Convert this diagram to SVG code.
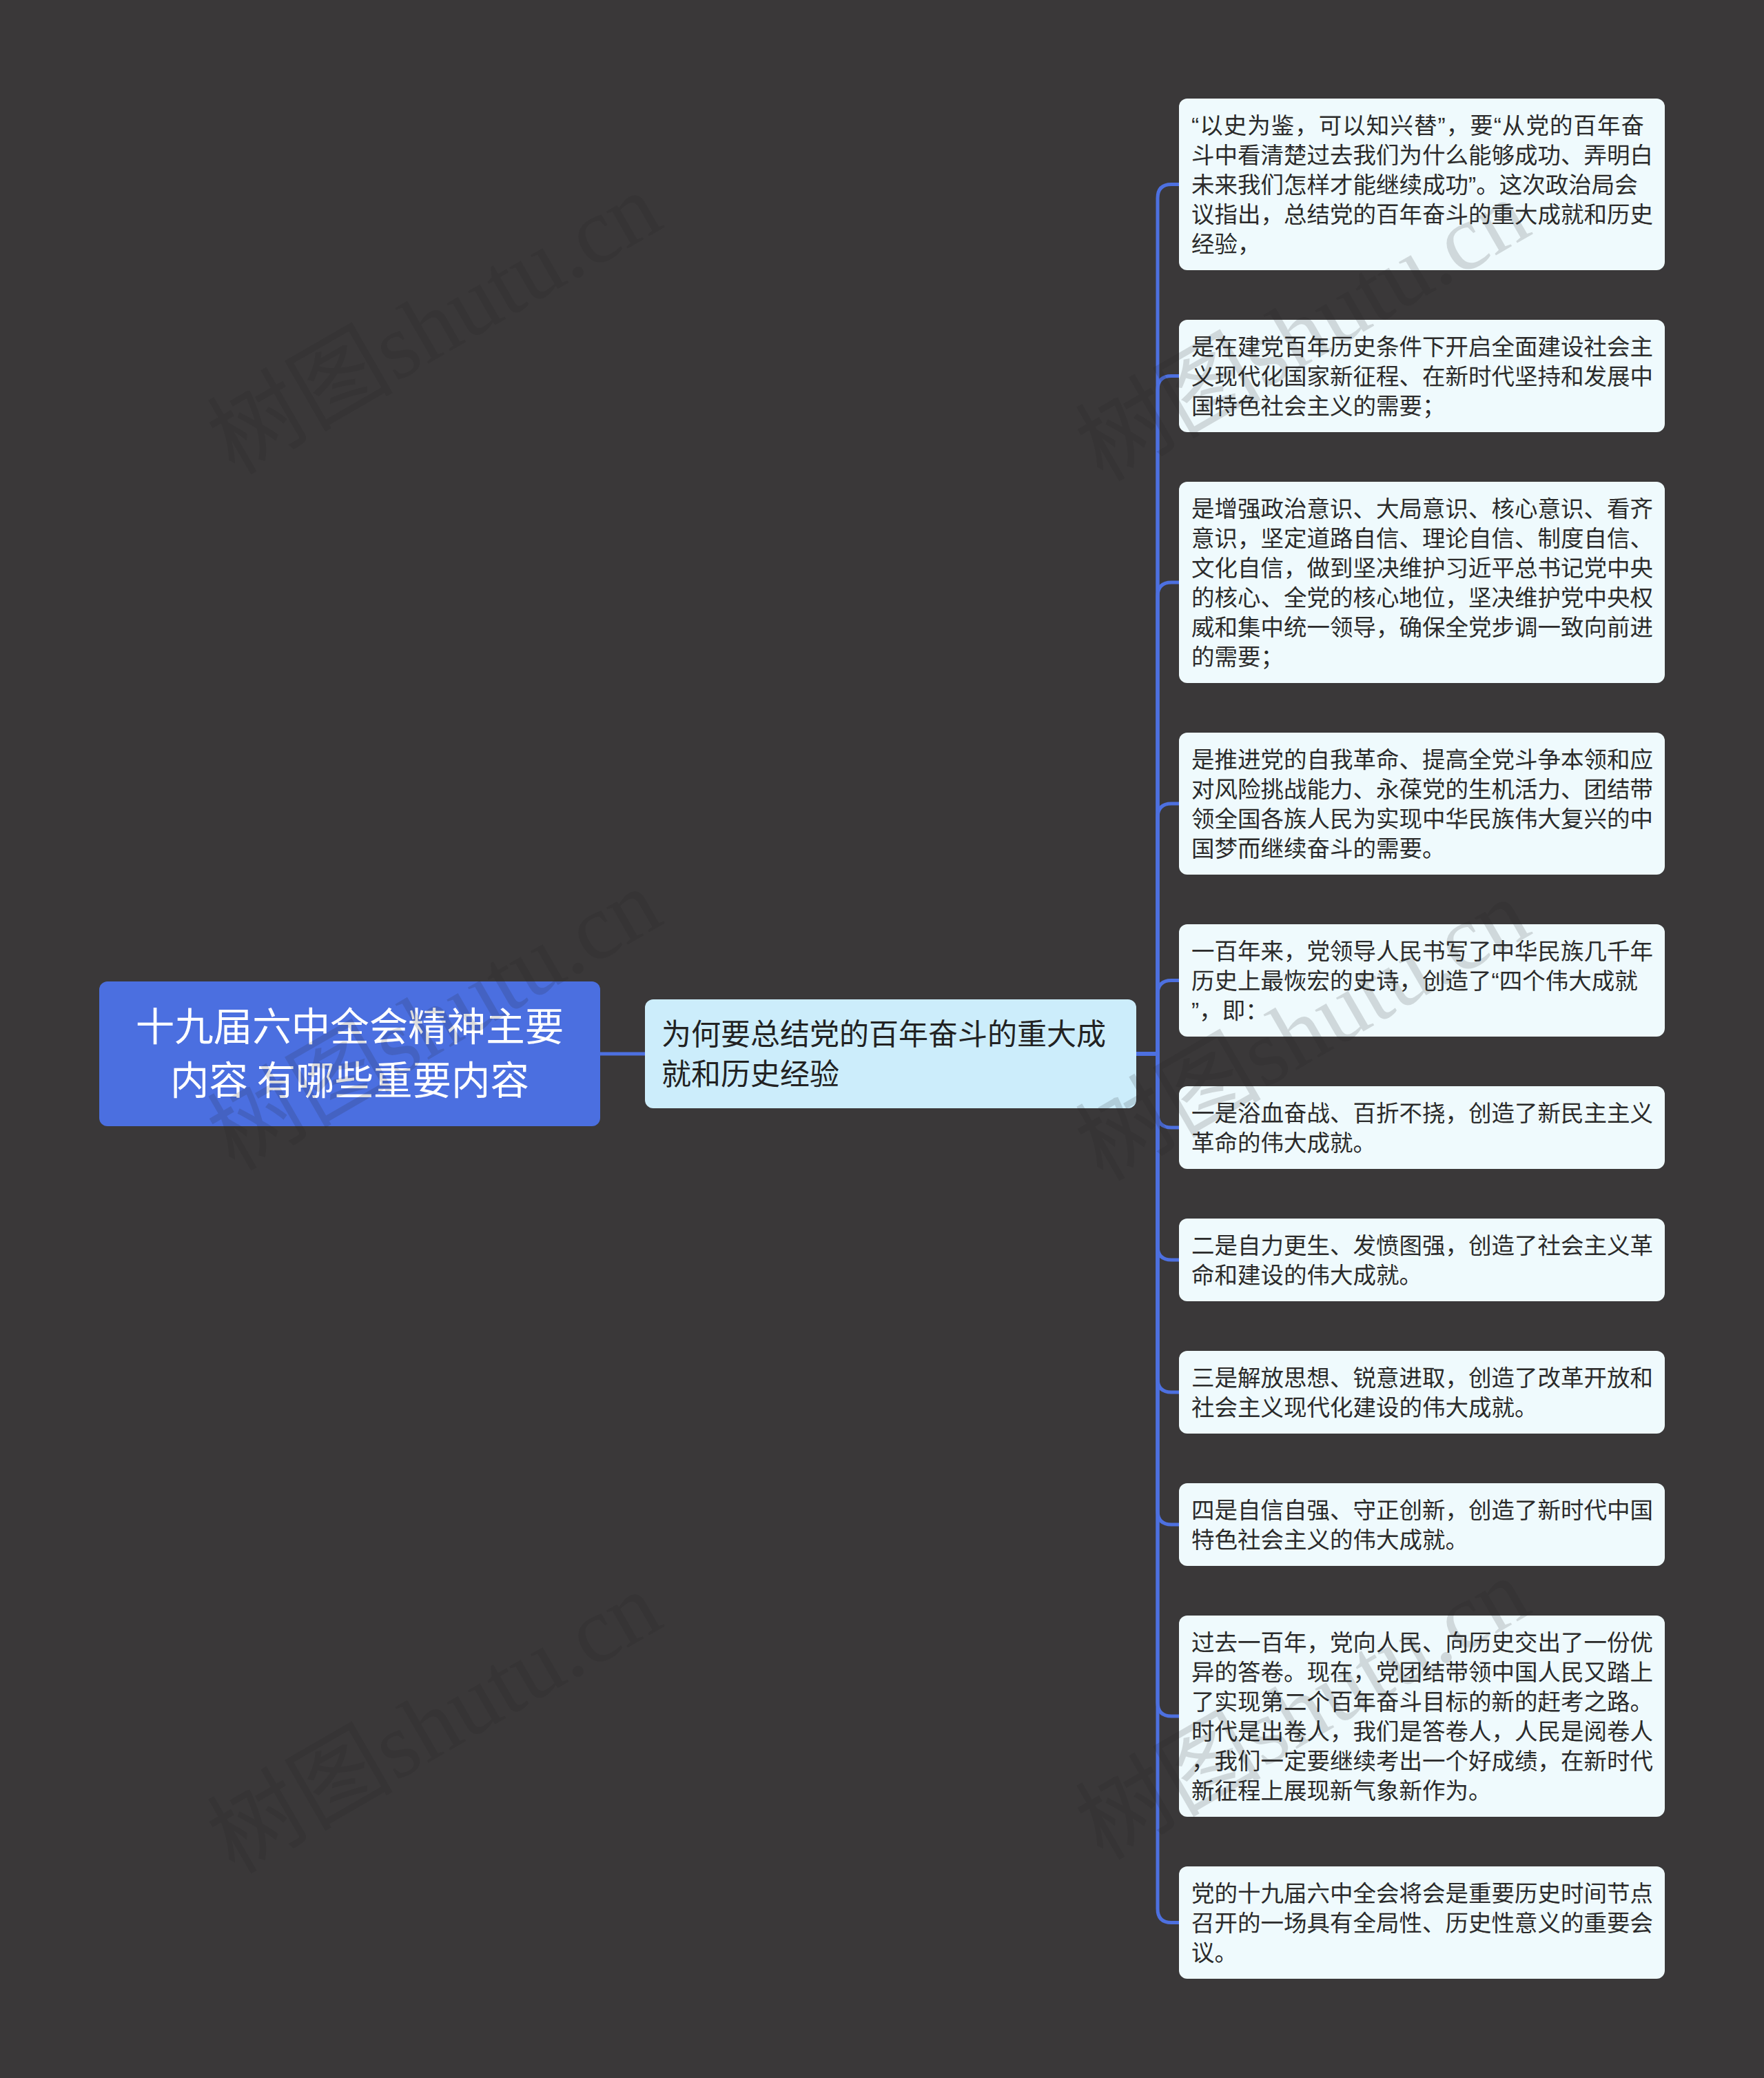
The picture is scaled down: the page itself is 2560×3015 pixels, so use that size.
<svg xmlns="http://www.w3.org/2000/svg" width="2560" height="3015" viewBox="0 0 2560 3015">
<style>
.bg{fill:#3a3839}
.conn{fill:none;stroke:#4d70e0;stroke-width:5}
.root-box{fill:#4b6fe0}
.child-box{fill:#ccedfb}
.leaf-box{fill:#effafd}
.root-t{font-family:"Noto Sans CJK SC","Noto Sans",sans-serif;font-size:56.5px;fill:#ffffff;text-anchor:middle}
.child-t{font-family:"Noto Sans CJK SC","Noto Sans",sans-serif;font-size:43px;fill:#222222}
.leaf-t{font-family:"Noto Sans CJK SC","Noto Sans",sans-serif;font-size:33.5px;fill:#2b2b2b}
.q{font-family:"Liberation Sans","Noto Sans CJK SC",sans-serif}
.wm{font-family:"Liberation Serif","Noto Sans CJK SC",serif;font-size:135px;fill:#202020;opacity:0.15}
</style>
<rect class="bg" x="0" y="0" width="2560" height="3015"/>
<g id="connectors">
<path class="conn" d="M871 1529 H936"/>
<path class="conn" d="M1649 1529 H1680 V287.5 Q1680 267.5 1700 267.5 H1711"/>
<path class="conn" d="M1649 1529 H1680 V565.5 Q1680 545.5 1700 545.5 H1711"/>
<path class="conn" d="M1649 1529 H1680 V865 Q1680 845 1700 845 H1711"/>
<path class="conn" d="M1649 1529 H1680 V1186 Q1680 1166 1700 1166 H1711"/>
<path class="conn" d="M1649 1529 H1680 V1442.5 Q1680 1422.5 1700 1422.5 H1711"/>
<path class="conn" d="M1649 1529 H1680 V1616 Q1680 1636 1700 1636 H1711"/>
<path class="conn" d="M1649 1529 H1680 V1808 Q1680 1828 1700 1828 H1711"/>
<path class="conn" d="M1649 1529 H1680 V2000 Q1680 2020 1700 2020 H1711"/>
<path class="conn" d="M1649 1529 H1680 V2192 Q1680 2212 1700 2212 H1711"/>
<path class="conn" d="M1649 1529 H1680 V2470 Q1680 2490 1700 2490 H1711"/>
<path class="conn" d="M1649 1529 H1680 V2769.5 Q1680 2789.5 1700 2789.5 H1711"/>
</g>
<g id="root">
<rect class="root-box" x="144" y="1424" width="727" height="210" rx="12"/>
<text class="root-t" x="507.5" y="1510">十九届六中全会精神主要</text>
<text class="root-t" x="507.5" y="1588">内容 有哪些重要内容</text>
</g>
<g id="child">
<rect class="child-box" x="936" y="1450" width="713" height="158" rx="12"/>
<text class="child-t" x="960" y="1516">为何要总结党的百年奋斗的重大成</text>
<text class="child-t" x="960" y="1574">就和历史经验</text>
</g>
<g id="leaf1">
<rect class="leaf-box" x="1711" y="143" width="705" height="249" rx="12"/>
<text class="leaf-t" x="1729" y="194" textLength="657" lengthAdjust="spacing"><tspan class="q">“</tspan>以史为鉴，可以知兴替<tspan class="q">”</tspan>，要<tspan class="q">“</tspan>从党的百年奋</text>
<text class="leaf-t" x="1729" y="237">斗中看清楚过去我们为什么能够成功、弄明白</text>
<text class="leaf-t" x="1729" y="280">未来我们怎样才能继续成功<tspan class="q">”</tspan>。这次政治局会</text>
<text class="leaf-t" x="1729" y="323">议指出，总结党的百年奋斗的重大成就和历史</text>
<text class="leaf-t" x="1729" y="366">经验，</text>
</g>
<g id="leaf2">
<rect class="leaf-box" x="1711" y="464" width="705" height="163" rx="12"/>
<text class="leaf-t" x="1729" y="515">是在建党百年历史条件下开启全面建设社会主</text>
<text class="leaf-t" x="1729" y="558">义现代化国家新征程、在新时代坚持和发展中</text>
<text class="leaf-t" x="1729" y="601">国特色社会主义的需要；</text>
</g>
<g id="leaf3">
<rect class="leaf-box" x="1711" y="699" width="705" height="292" rx="12"/>
<text class="leaf-t" x="1729" y="750">是增强政治意识、大局意识、核心意识、看齐</text>
<text class="leaf-t" x="1729" y="793">意识，坚定道路自信、理论自信、制度自信、</text>
<text class="leaf-t" x="1729" y="836">文化自信，做到坚决维护习近平总书记党中央</text>
<text class="leaf-t" x="1729" y="879">的核心、全党的核心地位，坚决维护党中央权</text>
<text class="leaf-t" x="1729" y="922">威和集中统一领导，确保全党步调一致向前进</text>
<text class="leaf-t" x="1729" y="965">的需要；</text>
</g>
<g id="leaf4">
<rect class="leaf-box" x="1711" y="1063" width="705" height="206" rx="12"/>
<text class="leaf-t" x="1729" y="1114">是推进党的自我革命、提高全党斗争本领和应</text>
<text class="leaf-t" x="1729" y="1157">对风险挑战能力、永葆党的生机活力、团结带</text>
<text class="leaf-t" x="1729" y="1200">领全国各族人民为实现中华民族伟大复兴的中</text>
<text class="leaf-t" x="1729" y="1243">国梦而继续奋斗的需要。</text>
</g>
<g id="leaf5">
<rect class="leaf-box" x="1711" y="1341" width="705" height="163" rx="12"/>
<text class="leaf-t" x="1729" y="1392">一百年来，党领导人民书写了中华民族几千年</text>
<text class="leaf-t" x="1729" y="1435">历史上最恢宏的史诗，创造了<tspan class="q">“</tspan>四个伟大成就</text>
<text class="leaf-t" x="1729" y="1478"><tspan class="q">”</tspan>，即：</text>
</g>
<g id="leaf6">
<rect class="leaf-box" x="1711" y="1576" width="705" height="120" rx="12"/>
<text class="leaf-t" x="1729" y="1627">一是浴血奋战、百折不挠，创造了新民主主义</text>
<text class="leaf-t" x="1729" y="1670">革命的伟大成就。</text>
</g>
<g id="leaf7">
<rect class="leaf-box" x="1711" y="1768" width="705" height="120" rx="12"/>
<text class="leaf-t" x="1729" y="1819">二是自力更生、发愤图强，创造了社会主义革</text>
<text class="leaf-t" x="1729" y="1862">命和建设的伟大成就。</text>
</g>
<g id="leaf8">
<rect class="leaf-box" x="1711" y="1960" width="705" height="120" rx="12"/>
<text class="leaf-t" x="1729" y="2011">三是解放思想、锐意进取，创造了改革开放和</text>
<text class="leaf-t" x="1729" y="2054">社会主义现代化建设的伟大成就。</text>
</g>
<g id="leaf9">
<rect class="leaf-box" x="1711" y="2152" width="705" height="120" rx="12"/>
<text class="leaf-t" x="1729" y="2203">四是自信自强、守正创新，创造了新时代中国</text>
<text class="leaf-t" x="1729" y="2246">特色社会主义的伟大成就。</text>
</g>
<g id="leaf10">
<rect class="leaf-box" x="1711" y="2344" width="705" height="292" rx="12"/>
<text class="leaf-t" x="1729" y="2395">过去一百年，党向人民、向历史交出了一份优</text>
<text class="leaf-t" x="1729" y="2438">异的答卷。现在，党团结带领中国人民又踏上</text>
<text class="leaf-t" x="1729" y="2481">了实现第二个百年奋斗目标的新的赶考之路。</text>
<text class="leaf-t" x="1729" y="2524">时代是出卷人，我们是答卷人，人民是阅卷人</text>
<text class="leaf-t" x="1729" y="2567">，我们一定要继续考出一个好成绩，在新时代</text>
<text class="leaf-t" x="1729" y="2610">新征程上展现新气象新作为。</text>
</g>
<g id="leaf11">
<rect class="leaf-box" x="1711" y="2708" width="705" height="163" rx="12"/>
<text class="leaf-t" x="1729" y="2759">党的十九届六中全会将会是重要历史时间节点</text>
<text class="leaf-t" x="1729" y="2802">召开的一场具有全局性、历史性意义的重要会</text>
<text class="leaf-t" x="1729" y="2845">议。</text>
</g>
<g id="watermark">
<text class="wm" transform="translate(340 690) rotate(-30)">树图shutu.cn</text>
<text class="wm" transform="translate(340 1700) rotate(-30)">树图shutu.cn</text>
<text class="wm" transform="translate(340 2720) rotate(-30)">树图shutu.cn</text>
<text class="wm" transform="translate(1600 700) rotate(-30)">树图shutu.cn</text>
<text class="wm" transform="translate(1600 1715) rotate(-30)">树图shutu.cn</text>
<text class="wm" transform="translate(1600 2700) rotate(-30)">树图shutu.cn</text>
</g>
</svg>
